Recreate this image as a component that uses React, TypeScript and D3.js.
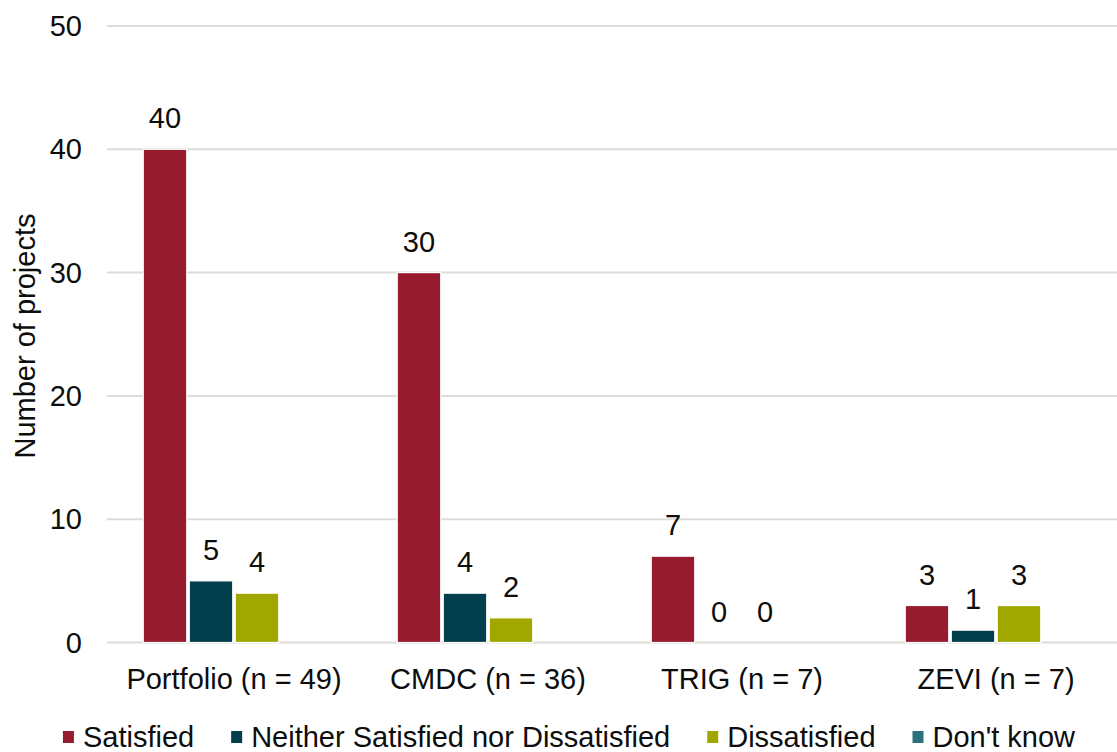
import React, { useEffect, useRef } from "react";
import * as d3 from "d3";

// Project satisfaction counts per programme
const categories = ["Portfolio (n = 49)", "CMDC (n = 36)", "TRIG (n = 7)", "ZEVI (n = 7)"];
const seriesNames = ["Satisfied", "Neither Satisfied nor Dissatisfied", "Dissatisfied", "Don't know"];
const satisfied = [40, 30, 7, 3];
const neither = [5, 4, 0, 1];
const dissatisfied = [4, 2, 0, 3];
const dontKnow = [0, 0, 0, 0];
const yTicks = [0, 10, 20, 30, 40, 50];
const yTitle = "Number of projects";

const seriesValues = [satisfied, neither, dissatisfied, dontKnow];
const seriesColors = ["#971b2f", "#023e4c", "#a0a800", "#2c717c"];
const showLabels = [true, true, true, false];

const W = 1117;
const H = 752;
const FONT = "'Liberation Sans', Arial, sans-serif";
const FS = 29;

export default function App() {
  const ref = useRef<SVGSVGElement | null>(null);

  useEffect(() => {
    const svg = d3.select(ref.current);
    svg.selectAll("*").remove();

    const x = d3.scaleBand<string>().domain(categories).range([107, 1123]).padding(0);
    const groupW = 181.5;
    const inner = d3
      .scaleBand<number>()
      .domain(d3.range(seriesNames.length))
      .range([(x.bandwidth() - groupW) / 2, (x.bandwidth() + groupW) / 2])
      .paddingInner(2.5 / 46)
      .paddingOuter(0);
    const y = d3.scaleLinear().domain([0, 50]).range([642.5, 26]);

    // gridlines
    svg
      .append("g")
      .selectAll("line")
      .data(yTicks)
      .join("line")
      .attr("x1", 107)
      .attr("x2", 1123)
      .attr("y1", (d) => y(d))
      .attr("y2", (d) => y(d))
      .attr("stroke", "#dfdcd8")
      .attr("stroke-width", 2);

    // y tick labels
    svg
      .append("g")
      .selectAll("text")
      .data(yTicks)
      .join("text")
      .attr("x", 82)
      .attr("y", (d) => y(d) + 10)
      .attr("text-anchor", "end")
      .attr("font-family", FONT)
      .attr("font-size", FS)
      .attr("fill", "#0d0d0d")
      .text((d) => d3.format("d")(d));

    // y axis title
    svg
      .append("text")
      .attr("transform", `translate(35,336) rotate(-90)`)
      .attr("text-anchor", "middle")
      .attr("font-family", FONT)
      .attr("font-size", FS)
      .attr("fill", "#0d0d0d")
      .text(yTitle);

    // bars and value labels
    const groups = svg
      .append("g")
      .selectAll("g")
      .data(categories)
      .join("g")
      .attr("transform", (d) => `translate(${x(d)},0)`);

    seriesValues.forEach((vals, si) => {
      groups
        .append("rect")
        .attr("x", inner(si)!)
        .attr("width", inner.bandwidth())
        .attr("y", (_, ci) => y(vals[ci]))
        .attr("height", (_, ci) => y(0) - y(vals[ci]))
        .attr("fill", seriesColors[si])
        .attr("stroke", "#ffffff")
        .attr("stroke-width", 1.2)
        .attr("display", (_, ci) => (vals[ci] > 0 ? null : "none"));

      if (showLabels[si]) {
        groups
          .append("text")
          .attr("x", inner(si)! + inner.bandwidth() / 2)
          .attr("y", (_, ci) => y(vals[ci]) - 21)
          .attr("text-anchor", "middle")
          .attr("font-family", FONT)
          .attr("font-size", FS)
          .attr("fill", "#0d0d0d")
          .text((_, ci) => String(vals[ci]));
      }
    });

    // category labels
    svg
      .append("g")
      .selectAll("text")
      .data(categories)
      .join("text")
      .attr("x", (d) => x(d)! + x.bandwidth() / 2)
      .attr("y", 689)
      .attr("text-anchor", "middle")
      .attr("font-family", FONT)
      .attr("font-size", FS)
      .attr("fill", "#0d0d0d")
      .text((d) => d);

    // legend, centred under the plot
    const sq = 11;
    const textOffset = 20;
    const itemGap = 37;
    const legend = svg.append("g");
    const items = seriesNames.map((name, i) => {
      const g = legend.append("g");
      g.append("rect")
        .attr("x", 0)
        .attr("y", 731)
        .attr("width", sq)
        .attr("height", 12)
        .attr("fill", seriesColors[i]);
      const t = g
        .append("text")
        .attr("x", textOffset)
        .attr("y", 747)
        .attr("font-family", FONT)
        .attr("font-size", FS)
        .attr("fill", "#0d0d0d")
        .text(name);
      const tw = (t.node() as SVGTextElement).getComputedTextLength();
      return { g, w: textOffset + tw };
    });
    const total = d3.sum(items, (d) => d.w) + itemGap * (items.length - 1);
    let cx = 569 - total / 2;
    items.forEach((it) => {
      it.g.attr("transform", `translate(${cx},0)`);
      cx += it.w + itemGap;
    });
  }, []);

  return (
    <svg
      ref={ref}
      width={W}
      height={H}
      style={{ position: "absolute", left: 0, top: 0, background: "#ffffff" }}
    />
  );
}
